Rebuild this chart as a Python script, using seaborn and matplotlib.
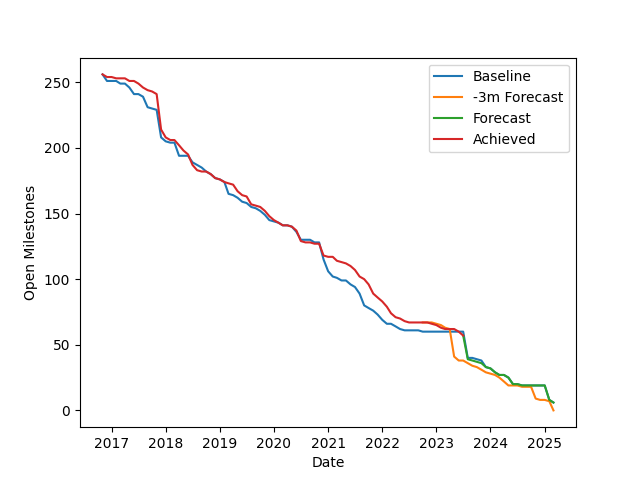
import matplotlib
matplotlib.use("Agg")
import matplotlib.pyplot as plt
import seaborn as sns
import pandas as pd

# monthly snapshots, Nov 2016 .. Mar 2025
first_month = "2016-11-01"
n_months = 101

baseline = [256, 251, 251, 251, 249, 249, 246, 241, 241, 239,
            231, 230, 229, 208, 205, 204, 204, 194, 194, 194,
            189, 187, 185, 182, 180, 177, 176, 174, 165, 164,
            162, 159, 158, 155, 154, 152, 149, 145, 144, 143,
            141, 141, 140, 136, 130, 130, 130, 128, 128, 115,
            106, 102, 101, 99, 99, 96, 94, 89, 80, 78,
            76, 73, 69, 66, 66, 64, 62, 61, 61, 61,
            61, 60, 60, 60, 60, 60, 60, 60, 60, 60,
            60, 40, 40, 39, 38, 33, 32, 29, 27, 27,
            25, 20, 20, 19, 19, 19, 19, 19, 19, 8,
            6]

# -3m forecast starts at month index 71
minus3m_start = 71
minus3m = [67, 67, 67, 66, 65, 63, 62, 41, 38, 38,
           36, 34, 33, 31, 29, 28, 27, 25, 22, 19,
           19, 19, 18, 18, 18, 9, 8, 8, 7, 0]

# forecast starts at month index 80
forecast_start = 80
forecast = [57, 39, 38, 37, 36, 33, 32, 29, 27, 27,
            25, 20, 20, 19, 19, 19, 19, 19, 19, 8,
            6]

achieved = [256, 254, 254, 253, 253, 253, 251, 251, 249, 246,
            244, 243, 241, 214, 208, 206, 206, 202, 198, 195,
            187, 183, 182, 182, 180, 177, 176, 174, 173, 172,
            167, 164, 163, 157, 156, 155, 152, 148, 145, 143,
            141, 141, 140, 137, 129, 128, 128, 127, 127, 118,
            117, 117, 114, 113, 112, 110, 107, 102, 100, 96,
            89, 86, 83, 79, 74, 71, 70, 68, 67, 67,
            67, 67, 67, 66, 65, 63, 62, 62, 62, 60,
            57]

months = pd.date_range(first_month, periods=n_months, freq="MS")

fig, ax = plt.subplots(figsize=(6.4, 4.8), dpi=100)

sns.lineplot(x=months[:len(baseline)], y=baseline, ax=ax,
             color="tab:blue", label="Baseline")
sns.lineplot(x=months[minus3m_start:minus3m_start + len(minus3m)], y=minus3m,
             ax=ax, color="tab:orange", label="-3m Forecast")
sns.lineplot(x=months[forecast_start:forecast_start + len(forecast)], y=forecast,
             ax=ax, color="tab:green", label="Forecast")
sns.lineplot(x=months[:len(achieved)], y=achieved, ax=ax,
             color="tab:red", label="Achieved")

ax.set_xlabel("Date")
ax.set_ylabel("Open Milestones")
ax.legend(loc="upper right")

plt.savefig("out.png", dpi=100)
